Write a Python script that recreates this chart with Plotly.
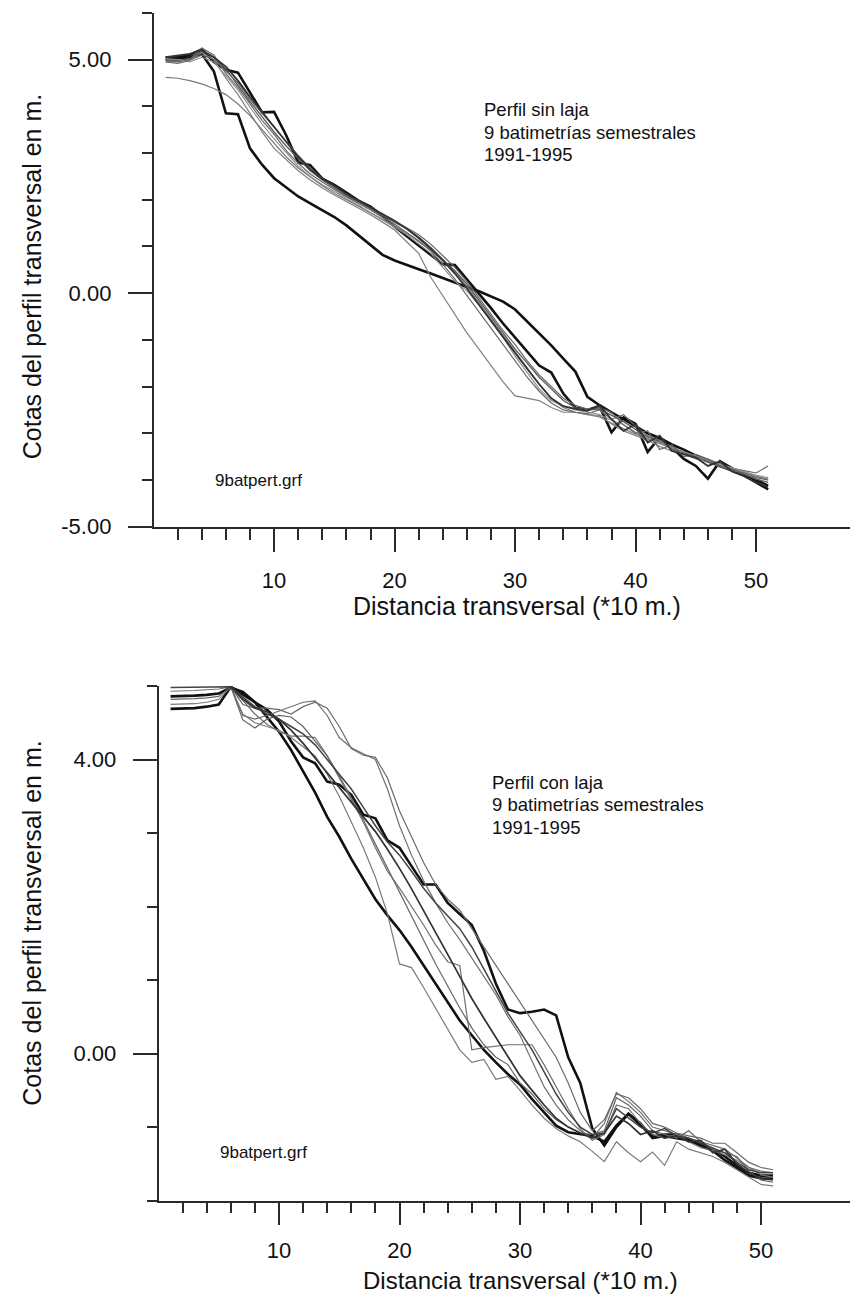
import plotly.graph_objects as go

W, H = 850, 1302

# ---------------- DATA ----------------
x_pos = list(range(1, 52))

# Top chart: "Perfil sin laja" (9 surveys)
top_s1 = [5.00,5.02,5.05,5.12,4.75,3.85,3.83,3.10,2.75,2.46,2.27,2.07,1.92,1.78,1.63,1.45,1.24,1.02,0.82,0.70,0.60,0.51,0.42,0.32,0.22,0.13,0.04,-0.07,-0.18,-0.35,-0.60,-0.85,-1.12,-1.40,-1.68,-2.22,-2.40,-2.55,-2.70,-2.86,-3.00,-3.10,-3.24,-3.35,-3.48,-3.58,-3.70,-3.80,-3.90,-4.00,-4.12]
top_s2 = [5.05,5.05,5.10,5.22,4.95,4.78,4.72,4.30,3.87,3.88,3.38,2.80,2.74,2.45,2.32,2.15,1.98,1.85,1.65,1.42,1.22,1.00,0.82,0.62,0.60,0.30,0.00,-0.32,-0.65,-0.95,-1.25,-1.55,-1.70,-2.15,-2.45,-2.50,-2.42,-2.98,-2.66,-2.80,-3.40,-3.09,-3.30,-3.55,-3.70,-3.97,-3.60,-3.75,-3.90,-4.05,-4.20]
top_s3 = [4.62,4.60,4.55,4.48,4.38,4.25,4.05,3.80,3.50,3.20,2.92,2.68,2.48,2.30,2.14,2.00,1.86,1.72,1.58,1.44,1.28,1.10,0.92,0.70,0.45,0.15,-0.20,-0.55,-0.90,-1.25,-1.60,-1.95,-2.25,-2.45,-2.55,-2.60,-2.65,-2.78,-2.90,-3.02,-3.12,-3.22,-3.32,-3.42,-3.52,-3.60,-3.68,-3.76,-3.84,-3.92,-3.98]
top_s4 = [4.95,4.98,5.00,5.15,5.00,4.60,4.25,3.85,3.45,3.10,2.85,2.62,2.42,2.25,2.10,1.96,1.82,1.68,1.52,1.35,1.10,0.85,0.34,-0.05,-0.45,-0.85,-1.20,-1.55,-1.90,-2.20,-2.25,-2.30,-2.45,-2.55,-2.55,-2.60,-2.62,-2.80,-2.95,-3.05,-3.15,-3.28,-3.38,-3.45,-3.55,-3.62,-3.70,-3.78,-3.85,-3.92,-4.00]
top_s5 = [4.98,4.95,5.00,5.25,5.10,4.70,4.40,4.05,3.70,3.40,3.05,2.78,2.55,2.38,2.22,2.06,1.92,1.78,1.62,1.48,1.30,1.12,0.90,0.62,0.30,-0.05,-0.40,-0.75,-1.10,-1.45,-1.80,-2.10,-2.35,-2.50,-2.55,-2.58,-2.50,-2.70,-2.60,-2.85,-3.05,-3.15,-3.35,-3.40,-3.50,-3.55,-3.65,-3.75,-3.80,-3.85,-3.70]
top_s6 = [5.00,4.98,5.02,5.18,5.05,4.80,4.45,4.10,3.78,3.45,3.15,2.88,2.62,2.42,2.25,2.08,1.95,1.80,1.66,1.52,1.38,1.20,0.98,0.72,0.48,0.20,-0.15,-0.50,-0.85,-1.20,-1.50,-1.80,-2.05,-2.30,-2.45,-2.50,-2.48,-2.62,-2.75,-2.92,-3.08,-3.18,-3.28,-3.42,-3.48,-3.62,-3.72,-3.78,-3.88,-3.98,-4.05]
top_s7 = [5.02,5.00,4.95,5.05,4.95,4.65,4.35,3.98,3.62,3.30,3.00,2.72,2.50,2.32,2.18,2.02,1.88,1.72,1.56,1.40,1.25,1.05,0.85,0.55,0.25,0.05,-0.25,-0.60,-0.95,-1.35,-1.70,-2.05,-2.30,-2.42,-2.50,-2.55,-2.60,-2.72,-2.82,-2.98,-3.10,-3.20,-3.30,-3.40,-3.48,-3.58,-3.66,-3.74,-3.82,-3.90,-3.95]
top_s8 = [4.95,4.92,4.98,5.10,5.00,4.75,4.50,4.15,3.85,3.55,3.25,2.95,2.68,2.45,2.28,2.12,1.96,1.82,1.68,1.55,1.40,1.25,1.05,0.80,0.55,0.25,-0.10,-0.45,-0.80,-1.10,-1.45,-1.75,-2.00,-2.25,-2.40,-2.48,-2.45,-2.55,-2.82,-3.00,-2.95,-3.35,-3.25,-3.50,-3.45,-3.55,-3.70,-3.80,-3.85,-3.95,-4.00]
top_s9 = [5.05,5.08,5.12,5.20,5.05,4.85,4.55,4.20,3.88,3.55,3.22,2.92,2.65,2.45,2.30,2.12,1.98,1.84,1.70,1.55,1.38,1.18,0.95,0.70,0.42,0.10,-0.25,-0.60,-0.95,-1.28,-1.62,-1.95,-2.25,-2.42,-2.48,-2.52,-2.40,-2.70,-2.95,-2.80,-3.20,-3.05,-3.38,-3.45,-3.52,-3.70,-3.60,-3.82,-3.92,-4.05,-4.15]

# Bottom chart: "Perfil con laja" (9 surveys)
bot_s1 = [4.86,4.86,4.87,4.88,4.90,4.98,4.92,4.78,4.58,4.38,4.13,3.85,3.55,3.22,2.95,2.65,2.38,2.10,1.88,1.68,1.45,1.20,0.95,0.70,0.45,0.25,0.05,-0.12,-0.28,-0.42,-0.62,-0.80,-0.98,-1.07,-1.10,-1.12,-1.20,-0.98,-0.82,-0.98,-1.13,-1.10,-1.10,-1.16,-1.22,-1.30,-1.40,-1.52,-1.62,-1.66,-1.66]
bot_s2 = [4.69,4.69,4.70,4.72,4.75,4.99,4.88,4.78,4.68,4.52,4.25,4.03,3.95,3.70,3.66,3.52,3.25,3.20,2.90,2.80,2.55,2.30,2.30,2.05,1.90,1.75,1.40,0.95,0.60,0.55,0.57,0.60,0.52,-0.05,-0.40,-1.02,-1.25,-1.00,-0.82,-0.95,-1.15,-1.12,-1.15,-1.18,-1.25,-1.32,-1.45,-1.55,-1.66,-1.70,-1.70]
bot_s3 = [5.09,5.09,5.09,5.09,5.07,4.99,4.60,4.55,4.60,4.66,4.72,4.78,4.80,4.60,4.30,4.16,4.08,4.00,3.60,3.10,2.70,2.35,2.05,1.78,1.55,1.30,1.05,0.80,0.50,0.25,-0.10,-0.45,-0.70,-0.90,-1.05,-1.15,-0.95,-0.53,-0.65,-0.80,-1.00,-1.05,-1.10,-1.15,-1.20,-1.25,-1.30,-1.42,-1.55,-1.60,-1.62]
bot_s4 = [5.02,5.02,5.02,5.03,5.02,4.99,4.75,4.70,4.70,4.68,4.62,4.72,4.78,4.70,4.45,4.15,4.06,4.03,3.75,3.30,2.95,2.60,2.30,2.10,1.95,1.70,1.45,1.20,0.95,0.70,0.45,0.20,-0.05,-0.40,-0.80,-1.05,-0.90,-0.55,-0.60,-0.75,-0.95,-1.00,-1.08,-1.12,-1.15,-1.22,-1.22,-1.35,-1.48,-1.55,-1.58]
bot_s5 = [4.93,4.93,4.94,4.95,4.96,4.99,4.80,4.62,4.48,4.38,4.32,4.32,4.30,4.05,3.75,3.45,3.15,2.80,2.48,2.25,2.00,1.75,1.48,1.25,1.20,0.05,0.08,0.10,0.12,0.12,0.12,-0.15,-0.45,-0.75,-1.02,-1.18,-1.10,-0.70,-0.75,-0.95,-1.10,-1.15,-1.10,-1.20,-1.28,-1.32,-1.38,-1.45,-1.55,-1.65,-1.68]
bot_s6 = [4.75,4.75,4.76,4.78,4.82,4.99,4.62,4.50,4.45,4.40,4.30,4.18,4.05,3.80,3.50,3.15,2.80,2.40,1.90,1.22,1.17,0.90,0.62,0.35,0.05,-0.12,-0.08,-0.35,-0.31,-0.50,-0.70,-0.88,-1.02,-1.12,-1.20,-1.33,-1.47,-1.20,-1.35,-1.47,-1.34,-1.52,-1.20,-1.30,-1.35,-1.40,-1.48,-1.58,-1.68,-1.78,-1.80]
bot_s7 = [4.82,4.82,4.83,4.84,4.86,4.99,4.54,4.43,4.55,4.60,4.58,4.45,4.25,4.05,3.78,3.48,3.18,2.85,2.52,2.20,1.88,1.55,1.22,0.92,0.62,0.35,0.12,-0.05,-0.15,-0.40,-0.55,-0.75,-0.90,-1.00,-1.08,-1.10,-1.05,-0.60,-0.70,-0.85,-1.05,-1.10,-1.15,-1.05,-1.20,-1.30,-1.35,-1.40,-1.60,-1.72,-1.75]
bot_s8 = [4.98,4.98,4.98,4.98,4.98,4.99,4.85,4.72,4.62,4.55,4.45,4.35,4.20,4.00,3.80,3.60,3.35,3.10,2.88,2.70,2.48,2.25,2.05,1.88,1.70,1.45,1.15,0.85,0.55,0.30,0.05,-0.25,-0.55,-0.80,-1.00,-1.10,-1.08,-0.75,-0.88,-1.00,-1.08,-1.02,-1.12,-1.15,-1.22,-1.28,-1.35,-1.48,-1.58,-1.62,-1.62]
bot_s9 = [5.04,5.04,5.04,5.04,5.03,4.99,4.82,4.70,4.65,4.55,4.40,4.22,4.02,3.82,3.62,3.42,3.22,3.02,2.78,2.52,2.24,1.95,1.65,1.35,1.05,0.75,0.48,0.22,-0.05,-0.30,-0.50,-0.70,-0.88,-1.00,-1.08,-1.15,-1.08,-0.85,-0.95,-1.10,-1.05,-1.15,-1.12,-1.20,-1.18,-1.35,-1.30,-1.50,-1.62,-1.70,-1.72]

top_series = [top_s1, top_s2, top_s3, top_s4, top_s5, top_s6, top_s7, top_s8, top_s9]
bot_series = [bot_s1, bot_s2, bot_s3, bot_s4, bot_s5, bot_s6, bot_s7, bot_s8, bot_s9]

x_major_ticks = [10, 20, 30, 40, 50]
x_minor_ticks = [2, 4, 6, 8, 12, 14, 16, 18, 22, 24, 26, 28, 32, 34, 36, 38, 42, 44, 46, 48]
top_y_major = [-5, 0, 5]
top_y_major_text = ["-5.00", "0.00", "5.00"]
top_y_minor = [-4, -3, -2, -1, 1, 2, 3, 4, 6]
bot_y_major = [0, 4]
bot_y_major_text = ["0.00", "4.00"]
bot_y_minor = [-2, -1, 1, 2, 3, 5]

x_title = "Distancia transversal (*10 m.)"
y_title = "Cotas del perfil transversal en m."
top_note = ["Perfil sin laja", "9 batimetrías semestrales", "1991-1995"]
bot_note = ["Perfil con laja", "9 batimetrías semestrales", "1991-1995"]
file_note = "9batpert.grf"

# ---------------- STYLE ----------------
FONT = "Liberation Sans, Arial, sans-serif"
top_styles = [("#111111", 2.6), ("#111111", 2.6), ("#7a7a7a", 1.2), ("#808080", 1.2),
              ("#6a6a6a", 1.2), ("#555555", 1.3), ("#8a8a8a", 1.1), ("#666666", 1.2), ("#333333", 1.8)]
bot_styles = [("#111111", 2.6), ("#111111", 2.6), ("#6f6f6f", 1.2), ("#6a6a6a", 1.2),
              ("#707070", 1.2), ("#7a7a7a", 1.2), ("#666666", 1.2), ("#444444", 1.5), ("#333333", 1.7)]

def px_x(p):
    return p / W

def px_y(p):
    return 1 - p / H

fig = go.Figure()
for ys, (c, w) in zip(top_series, top_styles):
    fig.add_trace(go.Scatter(x=x_pos, y=ys, mode="lines", line=dict(color=c, width=w),
                             xaxis="x", yaxis="y", showlegend=False))
for ys, (c, w) in zip(bot_series, bot_styles):
    fig.add_trace(go.Scatter(x=x_pos, y=ys, mode="lines", line=dict(color=c, width=w),
                             xaxis="x2", yaxis="y2", showlegend=False))

axis_color = "#2a2a2a"
tickfont = dict(family=FONT, size=22, color="#111111")

def xaxis_cfg(domain, rng, anchor, standoff):
    return dict(domain=domain, range=rng, anchor=anchor, showline=True, linecolor=axis_color,
                linewidth=1.8, showgrid=False, zeroline=False, ticks="outside", ticklen=23,
                tickwidth=1.5, tickcolor=axis_color, tickmode="array", tickvals=x_major_ticks,
                ticktext=[str(v) for v in x_major_ticks], tickfont=tickfont, ticklabelstandoff=standoff,
                minor=dict(tickmode="array", tickvals=x_minor_ticks, ticks="outside", ticklen=11,
                           tickwidth=1.5, tickcolor=axis_color, showgrid=False))

def yaxis_cfg(domain, rng, anchor, major, major_text, minor):
    return dict(domain=domain, range=rng, anchor=anchor, showline=True, linecolor=axis_color,
                linewidth=1.5, showgrid=False, zeroline=False, ticks="outside", ticklen=24,
                tickwidth=1.5, tickcolor=axis_color, tickmode="array", tickvals=major,
                ticktext=major_text, tickfont=tickfont, ticklabelstandoff=12,
                minor=dict(tickmode="array", tickvals=minor, ticks="outside", ticklen=10,
                           tickwidth=1.5, tickcolor=axis_color, showgrid=False))

top_x0, top_px_per = 153.6, 12.05
bot_x0, bot_px_per = 158.5, 12.05

fig.update_layout(
    width=W, height=H, margin=dict(l=0, r=0, t=0, b=0),
    paper_bgcolor="white", plot_bgcolor="white", showlegend=False,
    font=dict(family=FONT, color="#111111"),
    xaxis=xaxis_cfg([px_x(top_x0), 1.0], [0, (W - top_x0) / top_px_per], "y", 10),
    yaxis=yaxis_cfg([px_y(532), px_y(13)], [-5, 6], "x", top_y_major, top_y_major_text, top_y_minor),
    xaxis2=xaxis_cfg([px_x(bot_x0), 1.0], [0, (W - bot_x0) / bot_px_per], "y2", 6),
    yaxis2=yaxis_cfg([px_y(1212.7), px_y(693)], [-2, 5], "x2", bot_y_major, bot_y_major_text, bot_y_minor),
)

ann = []
def add_text(text, x, y, size, xanchor="center", angle=0, yanchor="middle", yshift=0):
    ann.append(dict(text=text, x=px_x(x), y=px_y(y), xref="paper", yref="paper", showarrow=False,
                    xanchor=xanchor, yanchor=yanchor, textangle=angle, borderpad=0, yshift=yshift,
                    font=dict(family=FONT, size=size, color="#111111")))

# axis titles
add_text(x_title, 517, 612, 25)
add_text(x_title, 520, 1302, 24, yanchor="bottom", yshift=-6)
add_text(y_title, 32, 280, 25, angle=-90)
add_text(y_title, 32, 933, 25, angle=-90)
# notes
for i, t in enumerate(top_note):
    add_text(t, 483, 111 + 22.5 * i, 18.5, xanchor="left")
for i, t in enumerate(bot_note):
    add_text(t, 491, 790 + 23 * i, 18.5, xanchor="left")
add_text(file_note, 214, 485, 17, xanchor="left")
add_text(file_note, 219, 1164, 17, xanchor="left")

fig.update_layout(annotations=ann)
fig.write_html("out.html")
